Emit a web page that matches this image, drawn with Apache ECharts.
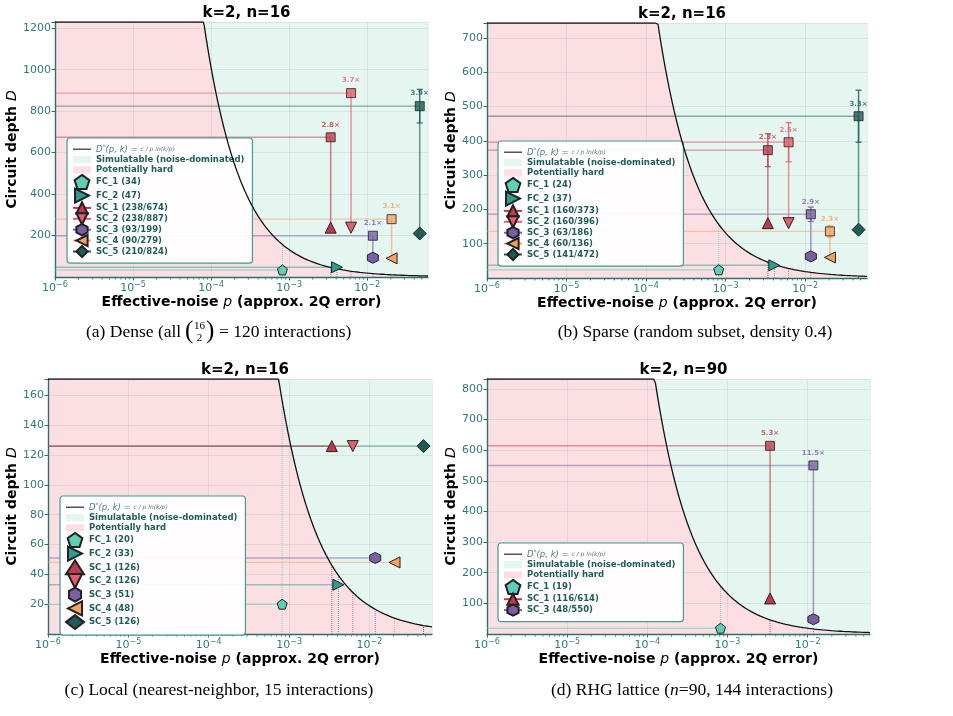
<!DOCTYPE html>
<html>
<head>
<meta charset="utf-8">
<title>Noise-dominated regime vs circuit depth</title>
<script src="https://cdn.jsdelivr.net/npm/echarts@6/dist/echarts.min.js"></script>
<style>
  html, body { margin: 0; padding: 0; background: #fff; }
  #chart { width: 953px; height: 716px; }
</style>
</head>
<body>
<div id="chart"></div>
<script>
// ---- data ----
const circuitNames = ['FC_1', 'FC_2', 'SC_1', 'SC_2', 'SC_3', 'SC_4', 'SC_5'];
const noiseP = [8.2e-4, 4.1e-3, 3.4e-3, 6.2e-3, 1.18e-2, 2.05e-2, 4.7e-2];

// (a) dense
const denseLow = [34, 47, 238, 238, 93, 90, 210];
const denseHigh = [null, null, 674, 887, 199, 279, 824];
const denseErr = [0, 0, 0, 0, 0, 0, 81];
const denseRatio = ['', '', '2.8', '3.7', '2.1', '3.1', '3.9'];

// (b) sparse
const sparseLow = [24, 37, 160, 160, 63, 60, 141];
const sparseHigh = [null, null, 373, 396, 186, 136, 472];
const sparseErr = [0, 0, 48, 57, 21, 17, 76];
const sparseRatio = ['', '', '2.3', '2.5', '2.9', '2.3', '3.3'];

// (c) local
const localLow = [20, 33, 126, 126, 51, 48, 126];

// (d) RHG lattice (only FC_1, SC_1, SC_3)
const rhgCircuits = [0, 2, 4];
const rhgLow = [19, 116, 48];
const rhgHigh = [null, 614, 550];
const rhgErr = [0, 0, 0];
const rhgRatio = ['', '5.3', '11.5'];

// theory curve D*(p,k) = c / (p ln(k/p))
const P_MIN = 1e-6, P_MAX = 0.06;
const K_LOC = 2, C_CONST = 1;
const dStar = p => C_CONST / (p * Math.log(K_LOC / p));

const xTickExps = [-6, -5, -4, -3, -2];

// ---- styles ----
const COLORS = ['#5dcfb4', '#2a9d8f', '#c1394e', '#e35d6d', '#7a5fa6', '#f4a261', '#1f5c57'];
const PENTAGON = 'path://M0,-1L0.951,-0.309L0.588,0.809L-0.588,0.809L-0.951,-0.309Z';
const HEXAGON = 'path://M0,-1L0.866,-0.5L0.866,0.5L0,1L-0.866,0.5L-0.866,-0.5Z';
const TRI_RIGHT = 'path://M-1,-1L1,0L-1,1Z';
const TRI_LEFT = 'path://M1,-1L-1,0L1,1Z';
const TRI_DOWN = 'path://M-1,-1L1,-1L0,1Z';
const LINE_ICON = 'path://M0,0L0.01,0.01M0,6.2L20,6.2L20,7.8L0,7.8ZM0,14L0.01,13.99';
const PATCH_ICON = 'path://M0,0L0.01,0.01M0,3L20,3L20,11L0,11ZM0,14L0.01,13.99';
const SYMBOLS = [PENTAGON, TRI_RIGHT, 'triangle', TRI_DOWN, HEXAGON, TRI_LEFT, 'diamond'];
const SIZES = [10, 11, 11, 11, 11, 11, 13];

const MINT = '#e5f6f1';
const PINK = '#fbdfe3';
const AXIS_COLOR = '#2c706b';
const TICK_TEXT = '#2f7a74';
const LEGEND_TEXT = '#1d5d58';
const EDGE = '#222';

const CURVE_NAME = 'D*(p,k)';
const SIM_NAME = 'Simulatable (noise-dominated)';
const HARD_NAME = 'Potentially hard';

const panels = [
  { grid: { left: 55, top: 22, width: 373, height: 255 }, yMax: 1230, yStep: 200, nameGap: 33,
    idx: [0, 1, 2, 3, 4, 5, 6], low: denseLow, high: denseHigh, err: denseErr, ratio: denseRatio,
    handles: true, legend: { left: 67, top: 138 }, title: 'k=2, n=16' },
  { grid: { left: 487, top: 23, width: 380, height: 255 }, yMax: 744, yStep: 100, nameGap: 29,
    idx: [0, 1, 2, 3, 4, 5, 6], low: sparseLow, high: sparseHigh, err: sparseErr, ratio: sparseRatio,
    handles: true, legend: { left: 498, top: 141 }, title: 'k=2, n=16' },
  { grid: { left: 48, top: 379, width: 384, height: 255 }, yMax: 171, yStep: 20, nameGap: 28,
    idx: [0, 1, 2, 3, 4, 5, 6], low: localLow, high: null, err: null, ratio: null,
    handles: false, legend: { left: 60, top: 496 }, title: 'k=2, n=16' },
  { grid: { left: 487, top: 379, width: 383, height: 255 }, yMax: 832, yStep: 100, nameGap: 29,
    idx: rhgCircuits, low: rhgLow, high: rhgHigh, err: rhgErr, ratio: rhgRatio,
    handles: true, legend: { left: 498, top: 543 }, title: 'k=2, n=90' }
];

// sampling of the theory curve on the log axis
const curveP = [];
for (let i = 0; i <= 400; i++) curveP.push(P_MIN * Math.pow(P_MAX / P_MIN, i / 400));

// minor ticks at 2..9 x 10^e
const minorTicks = [];
xTickExps.forEach(e => { for (let m = 2; m <= 9; m++) { const v = m * Math.pow(10, e); if (v < P_MAX) minorTicks.push([v, 0]); } });

const chart = echarts.init(document.getElementById('chart'));

const option = {
  animation: false,
  textStyle: { fontFamily: 'DejaVu Sans' },
  title: [], grid: [], xAxis: [], yAxis: [], legend: [], series: [], graphic: []
};

panels.forEach((pn, g) => {
  const ax = { xAxisIndex: g, yAxisIndex: g };
  option.grid.push(pn.grid);
  option.title.push({
    text: pn.title,
    left: pn.grid.left + pn.grid.width / 2,
    top: pn.grid.top - 21,
    textAlign: 'center',
    textStyle: { fontSize: 15, fontWeight: 'bold', color: '#000', fontFamily: 'DejaVu Sans' }
  });
  option.xAxis.push({
    gridIndex: g, type: 'log', logBase: 10, min: P_MIN, max: P_MAX,
    name: 'Effective-noise {i|p} (approx. 2Q error)', nameLocation: 'middle', nameGap: 15,
    nameTextStyle: { fontSize: 14, fontWeight: 'bold', color: '#000',
      rich: { i: { fontSize: 14, fontStyle: 'italic', fontWeight: 'normal', color: '#000' } } },
    axisLine: { show: true, lineStyle: { color: AXIS_COLOR, width: 1.4 } },
    axisTick: { show: true, length: 3.5, lineStyle: { color: AXIS_COLOR } },
    axisLabel: {
      color: TICK_TEXT, fontSize: 11, margin: 3, showMaxLabel: false,
      formatter: v => {
        const e = Math.round(Math.log10(v));
        return '{b|10}{s|' + (e < 0 ? '\u2212' : '') + Math.abs(e) + '}';
      },
      rich: { b: { fontSize: 11, color: TICK_TEXT, padding: [3, 0, 0, 0] }, s: { fontSize: 8, color: TICK_TEXT, padding: [0, 0, 5, 0] } }
    },
    splitLine: { show: true, lineStyle: { color: 'rgba(150,165,165,0.22)', width: 0.9 } }
  });
  option.yAxis.push({
    gridIndex: g, type: 'value', min: 0, max: pn.yMax, interval: pn.yStep,
    name: 'Circuit depth {i|D}', nameLocation: 'middle', nameGap: pn.nameGap, nameRotate: 90,
    nameTextStyle: { fontSize: 14, fontWeight: 'bold', color: '#000',
      rich: { i: { fontSize: 14, fontStyle: 'italic', fontWeight: 'normal', color: '#000' } } },
    axisLine: { show: true, lineStyle: { color: AXIS_COLOR, width: 1.4 } },
    axisTick: { show: true, length: 3.5, lineStyle: { color: AXIS_COLOR } },
    axisLabel: { color: TICK_TEXT, fontSize: 11, margin: 4, showMinLabel: false,
      formatter: v => (v % pn.yStep === 0 ? String(v) : '') },
    splitLine: { show: true, lineStyle: { color: 'rgba(150,165,165,0.22)', width: 0.9 } }
  });

  const curve = curveP.map(p => [p, Math.min(dStar(p), pn.yMax)]);

  // regions
  option.series.push({ type: 'line', name: SIM_NAME, ...ax, silent: true, z: -3, symbol: 'none',
    data: [[P_MIN, pn.yMax], [P_MAX, pn.yMax]], lineStyle: { width: 0 }, areaStyle: { color: MINT, opacity: 1 } });
  option.series.push({ type: 'line', name: HARD_NAME, ...ax, silent: true, z: -2, symbol: 'none',
    data: curve, lineStyle: { width: 0 }, areaStyle: { color: PINK, opacity: 1 } });
  // theory curve
  option.series.push({ type: 'line', name: CURVE_NAME, ...ax, silent: true, z: 5, symbol: 'none',
    data: curve, lineStyle: { color: '#111', width: 1.3 }, itemStyle: { color: '#555' } });

  // minor ticks on the log axis
  option.series.push({ type: 'custom', ...ax, silent: true, clip: false, z: 1, data: minorTicks,
    renderItem: (params, api) => {
      const pt = api.coord([api.value(0), 0]);
      return { type: 'line', shape: { x1: pt[0], y1: pt[1] + 0.7, x2: pt[0], y2: pt[1] + 2.6 },
        style: { stroke: AXIS_COLOR, lineWidth: 0.8 } };
    } });

  const legendData = [
    { name: CURVE_NAME, icon: LINE_ICON, itemStyle: { color: '#555' } },
    { name: SIM_NAME, icon: PATCH_ICON, itemStyle: { color: MINT } },
    { name: HARD_NAME, icon: PATCH_ICON, itemStyle: { color: PINK } }
  ];

  const squares = [];
  pn.idx.forEach((ci, j) => {
    const p = noiseP[ci];
    const col = COLORS[ci];
    const lo = pn.low[j];
    const hi = pn.high ? pn.high[j] : null;
    const top = hi != null ? hi : lo;
    const label = circuitNames[ci] + ' (' + lo + (hi != null ? '/' + hi : '') + ')';
    legendData.push({ name: label });

    // horizontal guide from the left edge
    option.series.push({ type: 'line', ...ax, silent: true, z: 2, symbol: 'none',
      data: [[P_MIN, top], [p, top]], lineStyle: { color: col, width: 1.4, opacity: 0.5 } });
    // dotted drop from the curve to the axis
    option.series.push({ type: 'line', ...ax, silent: true, z: 2, symbol: 'none',
      data: [[p, 0], [p, Math.min(dStar(p), pn.yMax)]], lineStyle: { color: col, width: 1, type: 'dotted', opacity: 0.8 } });

    if (hi != null) {
      option.series.push({ type: 'line', ...ax, silent: true, z: 3, symbol: 'none',
        data: [[p, lo], [p, hi]], lineStyle: { color: col, width: 1.5, opacity: 0.65 } });
      const e = pn.err[j];
      if (e > 0) {
        option.series.push({ type: 'line', ...ax, silent: true, z: 4, symbol: 'none',
          data: [[p, hi - e], [p, hi + e]], lineStyle: { color: col, width: 1.4, opacity: 0.85 } });
        option.series.push({ type: 'scatter', ...ax, silent: true, z: 4, symbol: 'rect', symbolSize: [6, 1.3],
          data: [[p, hi - e], [p, hi + e]], itemStyle: { color: col, opacity: 0.85 } });
      }
      squares.push({ value: [p, hi], itemStyle: { color: col },
        label: { color: col, formatter: pn.ratio[j] + '\u00d7' } });
    }

    // the measured marker (named, appears in the legend)
    const common = { name: label, ...ax, z: 8, symbol: SYMBOLS[ci], symbolSize: SIZES[ci],
      data: [[p, lo]], itemStyle: { color: col, borderColor: EDGE, borderWidth: 1, opacity: 1 } };
    if (pn.handles && ci >= 2) {
      option.series.push(Object.assign(common, { type: 'line', showSymbol: true,
        lineStyle: { color: col, width: 1.6 } }));
    } else {
      option.series.push(Object.assign(common, { type: 'scatter' }));
    }
  });

  if (squares.length) {
    option.series.push({ type: 'scatter', ...ax, silent: true, z: 9, symbol: 'rect', symbolSize: 9,
      data: squares,
      itemStyle: { borderColor: EDGE, borderWidth: 1 },
      label: { show: true, position: 'top', distance: 4, fontSize: 7, fontWeight: 'bold' } });
  }

  option.legend.push({
    left: pn.legend.left, top: pn.legend.top, orient: 'vertical', selectedMode: false,
    data: legendData, itemWidth: 18, itemHeight: 14, itemGap: -2.3,
    backgroundColor: 'rgba(255,255,255,0.93)', borderColor: '#3f9e92', borderWidth: 1.2, borderRadius: 3,
    padding: [5, 8, 5, 5],
    formatter: name => name === CURVE_NAME
      ? '{e|D}{es|*}{e|(p, k) = }{ef|c / p ln(k/p)}'
      : '{b|' + name + '}',
    textStyle: {
      rich: {
        b: { fontSize: 8.5, fontWeight: 'bold', color: LEGEND_TEXT, lineHeight: 11 },
        e: { fontSize: 8.5, fontStyle: 'italic', color: '#4d7f7a' },
        es: { fontSize: 6, fontStyle: 'italic', color: '#4d7f7a', padding: [0, 0, 4, 0] },
        ef: { fontSize: 6, fontStyle: 'italic', color: '#4d7f7a' }
      }
    }
  });
});

// ---- sub-captions ----
const capFont = '17.5px "Liberation Serif", "Times New Roman", serif';
const parenFont = '25px "Liberation Serif", "Times New Roman", serif';
const capSmall = '11px "Liberation Serif", "Times New Roman", serif';
option.graphic = [
  { type: 'text', x: 86, y: 332, style: { text: '(a) Dense (all', font: capFont, fill: '#000', verticalAlign: 'middle' } },
  { type: 'text', x: 185, y: 331, style: { text: '(', font: parenFont, fill: '#000', verticalAlign: 'middle' } },
  { type: 'text', x: 199.5, y: 326, style: { text: '16', font: capSmall, fill: '#000', align: 'center', verticalAlign: 'middle' } },
  { type: 'text', x: 199.5, y: 338, style: { text: '2', font: capSmall, fill: '#000', align: 'center', verticalAlign: 'middle' } },
  { type: 'text', x: 206, y: 331, style: { text: ')', font: parenFont, fill: '#000', verticalAlign: 'middle' } },
  { type: 'text', x: 219, y: 332, style: { text: '= 120 interactions)', font: capFont, fill: '#000', verticalAlign: 'middle' } },
  { type: 'text', x: 695, y: 332, style: { text: '(b) Sparse (random subset, density 0.4)', font: capFont, fill: '#000', align: 'center', verticalAlign: 'middle' } },
  { type: 'text', x: 219, y: 690, style: { text: '(c) Local (nearest-neighbor, 15 interactions)', font: capFont, fill: '#000', align: 'center', verticalAlign: 'middle' } },
  { type: 'text', x: 692, y: 690, style: { text: '(d) RHG lattice ({i|n}=90, 144 interactions)', font: capFont, fill: '#000', align: 'center', verticalAlign: 'middle',
    rich: { i: { font: 'italic 17.5px "Liberation Serif", serif', fill: '#000' } } } }
];

chart.setOption(option);
window.addEventListener('resize', () => chart.resize());
</script>
</body>
</html>
